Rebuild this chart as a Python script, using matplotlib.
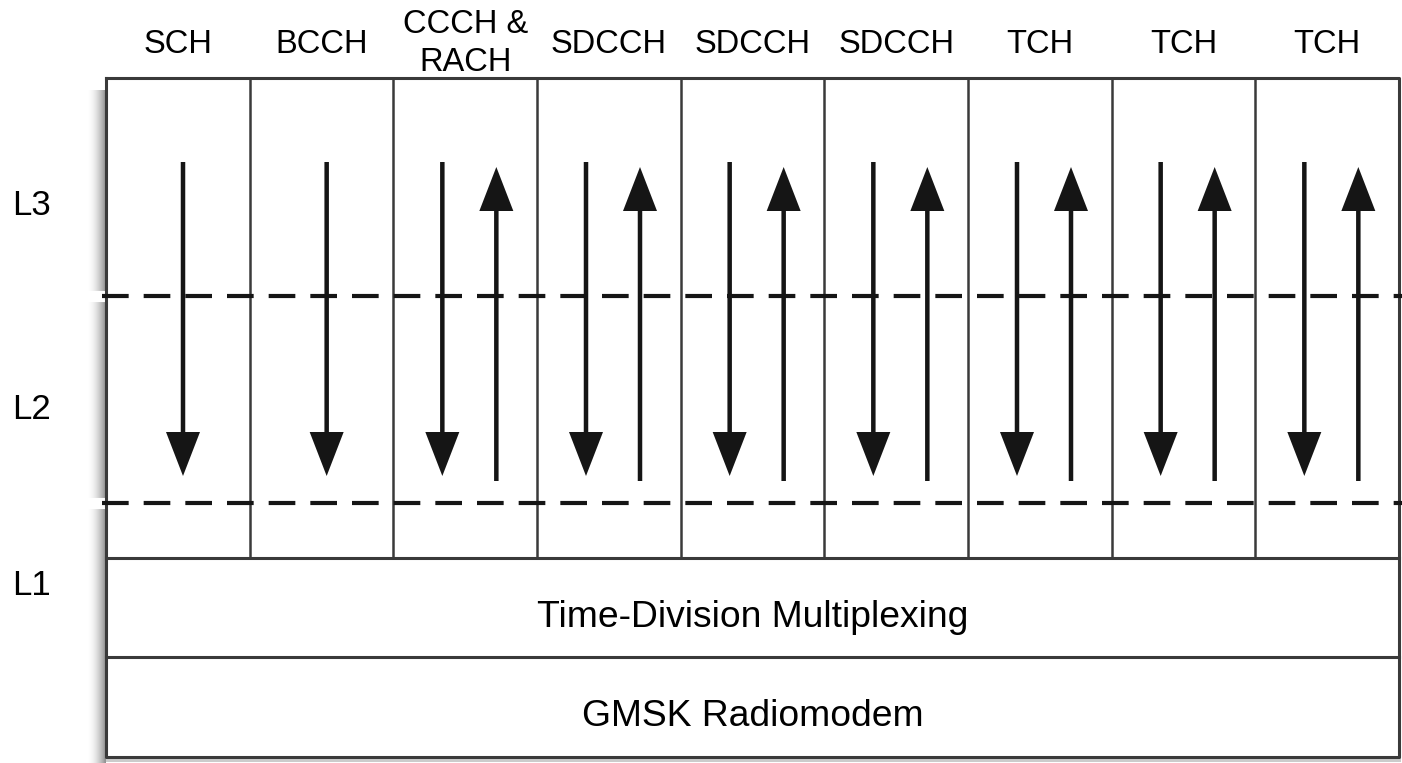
import numpy as np
import matplotlib.pyplot as plt

# channel columns and which directions each one carries
channels = ['SCH', 'BCCH', 'CCCH &\nRACH', 'SDCCH', 'SDCCH', 'SDCCH', 'TCH', 'TCH', 'TCH']
downlink = [True, True, True, True, True, True, True, True, True]
uplink = [False, False, True, True, True, True, True, True, True]
layers = ['L3', 'L2', 'L1']
bottom_rows = ['Time-Division Multiplexing', 'GMSK Radiomodem']

plt.rcParams['font.family'] = ['Liberation Sans', 'DejaVu Sans']

W, H = 1402, 763
fig = plt.figure(figsize=(W/100, H/100), dpi=100)
ax = fig.add_axes([0, 0, 1, 1])
ax.set_xlim(0, W)
ax.set_ylim(H, 0)
ax.axis('off')

# layout (pixels)
left, right = 106, 1399
top, bottom = 78, 757
l1_top, row2_top = 558, 657
dash_y = [296, 503]
colw = (right-left)/len(channels)
edge = '#3a3a3a'
ink = '#151515'

# soft shadow on the left of the box
grad = np.linspace(0, 1, 40).reshape(1, -1)
ax.imshow(np.dstack([np.zeros((1, 40, 3)), (grad**2*0.45)[..., None]]),
          extent=(86, left, bottom+6, top+12), aspect='auto', zorder=0,
          interpolation='bilinear')
for y in dash_y:
    ax.plot([84, left], [y, y], color='white', lw=8, zorder=1)
ax.fill_between([left-2, right+2], bottom, bottom+5, color='#999999', alpha=0.5, lw=0, zorder=1)

# box and rows
ax.fill_between([left, right], top, bottom, color='white', zorder=1)
ax.plot([left, right, right, left, left], [top, top, bottom, bottom, top], color=edge, lw=2.2, zorder=3)
for y in [l1_top, row2_top]:
    ax.plot([left, right], [y, y], color=edge, lw=2.2, zorder=3)
for i in range(1, len(channels)):
    x = left + i*colw
    ax.plot([x, x], [top, l1_top], color=edge, lw=1.8, zorder=3)

# dashed layer boundaries
for y in dash_y:
    ax.plot([left-4, W], [y, y], color=ink, lw=3, dashes=(6.4, 3.6), zorder=4)

# channel names and arrows
for i, name in enumerate(channels):
    x0 = left + i*colw
    lines = name.split('\n')
    base = 53 if len(lines) == 1 else 71
    for k, ln in enumerate(lines[::-1]):
        ax.text(x0 + colw/2, base - 38*k, ln, ha='center', va='baseline',
                fontsize=23.5, color='black')
    if uplink[i]:
        xd, xu = x0 + 49, x0 + 103
    else:
        xd, xu = x0 + 77, None
    if downlink[i]:
        ax.arrow(xd, 162, 0, 476-162, width=4.5, head_width=34, head_length=44,
                 length_includes_head=True, color=ink, lw=0, zorder=5)
    if xu is not None:
        ax.arrow(xu, 481, 0, 167-481, width=4.5, head_width=34, head_length=44,
                 length_includes_head=True, color=ink, lw=0, zorder=5)

# layer labels
for name, y in zip(layers, [215, 419, 595]):
    ax.text(12, y, name, ha='left', va='baseline', fontsize=25, color='black')

for name, y in zip(bottom_rows, [627, 726]):
    ax.text((left+right)/2, y, name, ha='center', va='baseline', fontsize=26.8, color='black')

plt.savefig('out.png', dpi=100)
